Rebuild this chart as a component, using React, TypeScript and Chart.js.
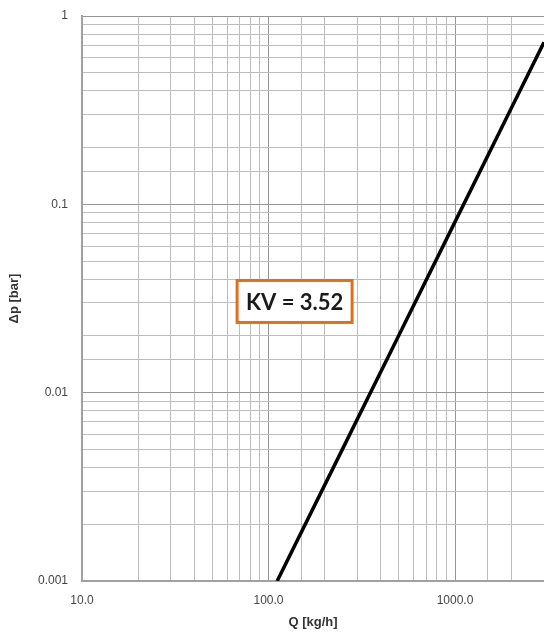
import React, { useEffect, useRef } from 'react';
import { Chart, registerables } from 'chart.js';

Chart.register(...registerables);

// Flow rate Q [kg/h] and pressure drop Δp [bar]
const flowKgH = [111.3, 200, 500, 1000, 2000, 3000];
const dpBar = [0.001, 0.00323, 0.0202, 0.0807, 0.323, 0.726];

const xTickLabels = ['10.0', '100.0', '1000.0'];
const yTickLabels = ['0.001', '0.01', '0.1', '1'];
const xTitle = 'Q [kg/h]';
const yTitle = 'Δp [bar]';
const kvLabel = 'KV = 3.52';
const kvAnchor = [138, 0.0305]; // data coordinates of the label box centre

const isDecade = (v: number) => {
  const l = Math.log10(v);
  return Math.abs(l - Math.round(l)) < 1e-6;
};

const gridColor = (ctx: any) => (ctx.tick && isDecade(ctx.tick.value) ? '#959595' : '#bdbdbd');

const kvPlugin = {
  id: 'kvBox',
  afterDraw(chart: any) {
    const { ctx, scales } = chart;
    const cx = scales.x.getPixelForValue(kvAnchor[0]);
    const cy = scales.y.getPixelForValue(kvAnchor[1]);
    const w = 115;
    const h = 42;
    ctx.save();
    ctx.fillStyle = '#ffffff';
    ctx.fillRect(cx - w / 2, cy - h / 2, w, h);
    ctx.lineWidth = 3;
    ctx.strokeStyle = '#E0701E';
    ctx.strokeRect(cx - w / 2, cy - h / 2, w, h);
    ctx.fillStyle = '#1a1a1a';
    ctx.font = 'bold 22px Lato, "Liberation Sans", sans-serif';
    ctx.textAlign = 'center';
    ctx.textBaseline = 'middle';
    ctx.fillText(kvLabel, cx, cy + 1);
    ctx.restore();
  },
};

export default function App() {
  const ref = useRef<HTMLCanvasElement>(null);

  useEffect(() => {
    if (!ref.current) return;
    const chart = new Chart(ref.current, {
      type: 'line',
      data: {
        datasets: [
          {
            data: flowKgH.map((q, i) => ({ x: q, y: dpBar[i] })),
            borderColor: '#000000',
            borderWidth: 3.5,
            pointRadius: 0,
            fill: false,
            tension: 0,
          },
        ],
      },
      options: {
        animation: false,
        responsive: false,
        maintainAspectRatio: false,
        layout: { padding: { top: 16, right: 0, left: 0, bottom: 0 } },
        plugins: {
          legend: { display: false },
          tooltip: { enabled: false },
        },
        scales: {
          x: {
            type: 'logarithmic',
            min: 10,
            max: 3000,
            afterFit: (s: any) => {
              s.height = 51;
              s.paddingLeft = 0;
              s.paddingRight = 0;
            },
            grid: { color: gridColor, lineWidth: 1, drawTicks: false },
            border: { color: '#a0a0a0', width: 2 },
            ticks: {
              autoSkip: false,
              maxRotation: 0,
              padding: 12,
              color: '#444444',
              font: { family: '"Liberation Sans", Arial, sans-serif', size: 12 },
              callback: (v: any) => {
                const n = Number(v);
                return isDecade(n) ? xTickLabels[Math.round(Math.log10(n)) - 1] ?? '' : '';
              },
            },
            title: {
              display: true,
              text: xTitle,
              color: '#333333',
              padding: { top: 0, bottom: 2 },
              font: { family: '"Liberation Sans", Arial, sans-serif', size: 13, weight: 'bold' },
            },
          },
          y: {
            type: 'logarithmic',
            min: 0.001,
            max: 1,
            afterFit: (s: any) => {
              s.width = 82;
              s.paddingTop = 0;
              s.paddingBottom = 0;
            },
            grid: { color: gridColor, lineWidth: 1, drawTicks: false },
            border: { color: '#a0a0a0', width: 2 },
            ticks: {
              autoSkip: false,
              padding: 14,
              color: '#444444',
              font: { family: '"Liberation Sans", Arial, sans-serif', size: 12 },
              callback: (v: any) => {
                const n = Number(v);
                return isDecade(n) ? yTickLabels[Math.round(Math.log10(n)) + 3] ?? '' : '';
              },
            },
            title: {
              display: true,
              text: yTitle,
              color: '#333333',
              padding: { top: 7, bottom: 0 },
              font: { family: '"Liberation Sans", Arial, sans-serif', size: 13, weight: 'bold' },
            },
          },
        },
      },
      plugins: [kvPlugin],
    });
    return () => chart.destroy();
  }, []);

  return (
    <div style={{ position: 'absolute', left: 0, top: 0, width: 544, height: 632, background: '#fff' }}>
      <canvas ref={ref} width={544} height={632} style={{ display: 'block' }} />
    </div>
  );
}
